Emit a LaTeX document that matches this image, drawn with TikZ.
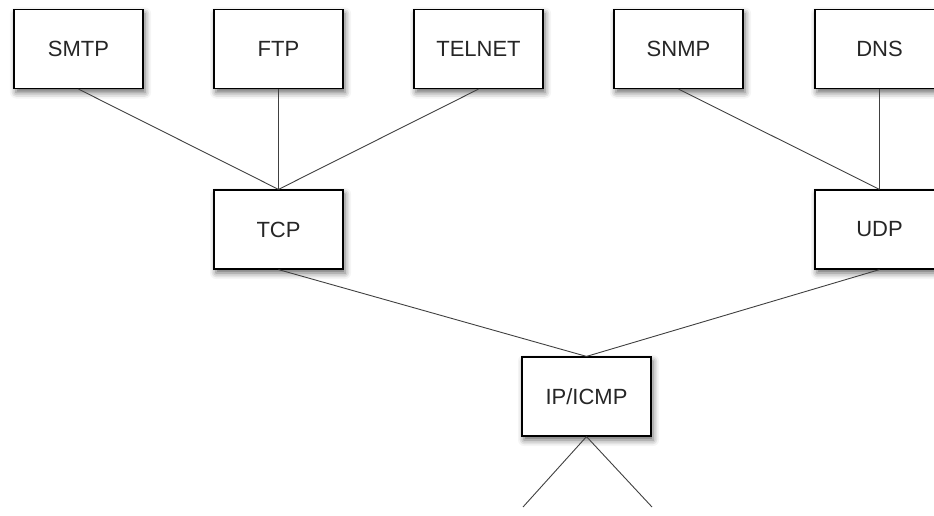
\documentclass[tikz,border=0pt]{standalone}
\usepackage{fontspec}
\setmainfont{Liberation Sans}
\usetikzlibrary{shadows.blur}
\begin{document}
\begin{tikzpicture}[x=1pt,y=-1pt,
  proto/.style={draw=black, line width=1.2pt, fill=white, minimum width=129pt, minimum height=79pt,
    inner sep=0pt, font=\fontsize{22}{26}\selectfont, text=black!85,
    blur shadow={shadow xshift=2pt, shadow yshift=-4pt, shadow blur radius=6pt, shadow opacity=60}},
  link/.style={draw=black!75, line width=0.9pt}]
\useasboundingbox (0,0) rectangle (934,516);
\node[proto] (smtp) at (78.5,49) {SMTP};
\node[proto] (ftp) at (278.5,49) {FTP};
\node[proto] (telnet) at (478.5,49) {TELNET};
\node[proto] (snmp) at (678.5,49) {SNMP};
\node[proto] (dns) at (879.5,49) {DNS};
\node[proto] (tcp) at (278.5,229.5) {TCP};
\node[proto] (udp) at (879.5,229.5) {UDP};
\node[proto] (ip) at (586.5,396.5) {IP/ICMP};
\coordinate (l1) at (523,507);
\coordinate (l2) at (652,507);
\draw[link] (smtp.south) -- (tcp.north);
\draw[link] (ftp.south) -- (tcp.north);
\draw[link] (telnet.south) -- (tcp.north);
\draw[link] (snmp.south) -- (udp.north);
\draw[link] (dns.south) -- (udp.north);
\draw[link] (tcp.south) -- (ip.north);
\draw[link] (udp.south) -- (ip.north);
\draw[link] (ip.south) -- (l1);
\draw[link] (ip.south) -- (l2);
\end{tikzpicture}
\end{document}
